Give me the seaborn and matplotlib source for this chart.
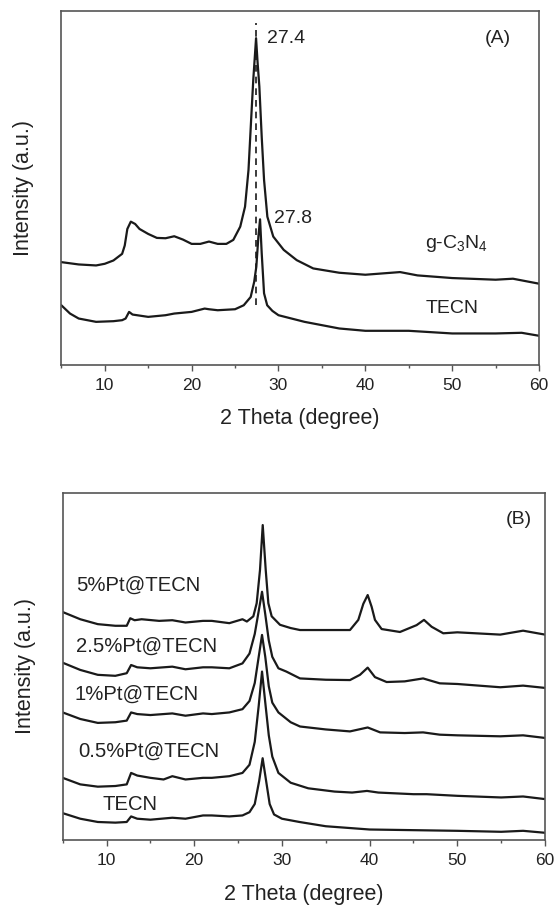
import numpy as np
import pandas as pd
import matplotlib
matplotlib.use("Agg")
import matplotlib.pyplot as plt
from matplotlib.ticker import MultipleLocator
import seaborn as sns

# ---------------- Panel A data ----------------
gcn_x = [5, 7, 9, 10, 11, 12, 12.3, 12.6, 13, 13.5, 14, 15, 16, 17, 18, 19, 20, 21, 22, 23, 24,
         24.8, 25.6, 26.15, 26.55, 26.85, 27.1, 27.42, 27.6, 27.8, 28.07, 28.34, 28.72, 29.4, 30.6,
         32.1, 34, 37, 40, 44, 46, 50, 55, 57, 60]
gcn_y = [310, 303, 300, 305, 315, 335, 360, 410, 432, 425, 410, 395, 383, 382, 388, 378, 365, 365,
         372, 365, 365, 377, 417, 477, 588, 738, 860, 985, 910, 839, 688, 558, 447, 387, 347,
         316, 291, 278, 272, 280, 270, 262, 257, 260, 245]

tecn_a_x = [5, 6, 7, 9, 11, 12, 12.4, 12.8, 13.2, 15, 17, 18, 20, 21.5, 22, 23, 25, 26, 26.8, 27.2,
            27.45, 27.69, 27.88, 28.07, 28.34, 28.7, 29.3, 30, 33, 37, 40, 45, 50, 55, 58, 60]
tecn_a_y = [180, 155, 140, 130, 132, 135, 140, 160, 152, 145, 150, 155, 160, 170, 168, 165, 168,
            180, 205, 250, 296, 387, 439, 337, 216, 180, 163, 150, 130, 110, 103, 103, 95, 95, 97, 88]

peak_a = 27.4
peak_a_ymin, peak_a_ymax = 180, 1030

# ---------------- Panel B data ----------------
b_labels = ["TECN", "0.5%Pt@TECN", "1%Pt@TECN", "2.5%Pt@TECN", "5%Pt@TECN"]

pt5_x = [5, 7, 9, 11, 12.3, 12.7, 13.2, 14, 16, 17.5, 19, 21, 22, 24, 25.5, 26.0, 26.74, 27.12,
         27.5, 27.81, 28.15, 28.45, 28.83, 29.78, 31, 32.06, 35, 37.76, 38.71, 39.28, 39.78, 40.23,
         40.61, 41.37, 43.46, 45.36, 46.2, 47.07, 48.4, 50, 54.9, 57.5, 60]
pt5_y = [697, 675, 660, 655, 655, 678, 672, 675, 670, 672, 665, 670, 670, 663, 675, 668, 684, 724,
         826, 963, 826, 724, 684, 658, 648, 642, 642, 642, 673, 722, 749, 713, 673, 645, 636, 657,
         673, 652, 632, 635, 628, 640, 628]

pt25_x = [5, 7, 9, 11, 12.3, 12.8, 13.5, 15, 17.5, 19, 21, 22, 24, 25.5, 26.3, 26.9, 27.35, 27.73,
          28.1, 28.5, 28.9, 29.6, 30.5, 32.06, 35, 37.76, 38.9, 39.78, 40.61, 41.94, 44, 46.1, 48,
          50, 54.9, 57.5, 60]
pt25_y = [542, 520, 505, 502, 510, 535, 528, 525, 530, 522, 528, 528, 525, 540, 570, 630, 700, 759,
          690, 610, 560, 525, 515, 494, 490, 489, 505, 527, 498, 483, 485, 494, 479, 477, 467, 472, 465]

pt1_x = [5, 7, 9, 11, 12.3, 12.8, 13.5, 15, 17.5, 19, 21, 22, 24, 25.5, 26.3, 26.9, 27.35, 27.73,
         28.1, 28.5, 28.9, 29.6, 31, 32.06, 35, 37.76, 39.78, 41.2, 44, 46.1, 48, 50, 54.9, 57.5, 60]
pt1_y = [390, 370, 358, 360, 365, 390, 385, 382, 387, 380, 387, 385, 390, 400, 425, 480, 560, 627,
         560, 470, 420, 390, 360, 347, 338, 332, 344, 329, 327, 329, 322, 320, 317, 320, 312]

pt05_x = [5, 7, 9, 11, 12.3, 12.8, 13.5, 15, 16.5, 17.5, 19, 21, 22, 24, 25.5, 26.3, 26.9, 27.35,
          27.73, 28.1, 28.5, 28.9, 29.6, 31, 33, 36, 38, 39.7, 41, 45, 46.5, 50, 55, 57.5, 60]
pt05_y = [190, 170, 163, 165, 170, 205, 197, 190, 185, 195, 185, 190, 190, 195, 205, 230, 300, 410,
          515, 420, 320, 255, 205, 175, 158, 148, 145, 150, 145, 140, 140, 135, 130, 133, 125]

tecn_b_x = [5, 7, 9, 11, 12.3, 12.8, 13.5, 15, 17.5, 19, 21, 22, 24, 25.5, 26.3, 26.9, 27.4, 27.8,
            28.2, 28.6, 29.1, 30, 32, 35, 40, 45, 50, 55, 57.5, 60]
tecn_b_y = [82, 65, 55, 53, 55, 72, 65, 62, 68, 65, 75, 75, 72, 75, 85, 110, 180, 250, 180, 110, 78,
            65, 55, 42, 32, 30, 28, 25, 28, 22]

b_label_pos_x = [9.5, 6.8, 6.3, 6.5, 6.5]
b_label_pos_y = [110, 270, 445, 592, 780]

xticks = [10, 20, 30, 40, 50, 60]

# ---------------- Build frames ----------------
df_a = pd.concat([
    pd.DataFrame({"theta": gcn_x, "intensity": gcn_y, "sample": "g-C3N4"}),
    pd.DataFrame({"theta": tecn_a_x, "intensity": tecn_a_y, "sample": "TECN"}),
])
b_series = [(tecn_b_x, tecn_b_y), (pt05_x, pt05_y), (pt1_x, pt1_y), (pt25_x, pt25_y), (pt5_x, pt5_y)]
df_b = pd.concat([
    pd.DataFrame({"theta": sx, "intensity": sy, "sample": lab})
    for lab, (sx, sy) in zip(b_labels, b_series)
])

sns.set_theme(style="ticks")
plt.rcParams["font.family"] = ["Liberation Sans", "DejaVu Sans"]
plt.rcParams["mathtext.fontset"] = "custom"
plt.rcParams["mathtext.rm"] = "Liberation Sans"
plt.rcParams["mathtext.it"] = "Liberation Sans"

fig = plt.figure(figsize=(5.56, 9.07), dpi=100)
ax_a = fig.add_axes([0.1103, 0.5976, 0.8592, 0.3903])
ax_b = fig.add_axes([0.1128, 0.0739, 0.8674, 0.3829])

line_col = "#1a1a1a"
spine_col = "#555555"
text_col = "#222222"

sns.lineplot(data=df_a, x="theta", y="intensity", units="sample", estimator=None,
             color=line_col, linewidth=1.6, sort=False, ax=ax_a)
sns.lineplot(data=df_b, x="theta", y="intensity", units="sample", estimator=None,
             color=line_col, linewidth=1.6, sort=False, ax=ax_b)

ax_a.vlines(peak_a, peak_a_ymin, peak_a_ymax, colors=line_col, linestyles=(0, (4, 3)), linewidth=1.2)

ax_a.set_ylim(0, 1067)
ax_b.set_ylim(0, 1062)

xlab_y = [-0.150, -0.158]
ylab_x = [-0.057, -0.056]
for ax, xy, yx in zip((ax_a, ax_b), xlab_y, ylab_x):
    ax.set_xlim(5, 60)
    ax.set_xticks(xticks)
    ax.xaxis.set_minor_locator(MultipleLocator(5))
    ax.set_yticks([])
    ax.tick_params(axis="x", which="major", length=4.5, width=1, color=spine_col,
                   labelsize=12.5, labelcolor=text_col, pad=5)
    ax.tick_params(axis="x", which="minor", length=2.5, width=1, color=spine_col)
    for s in ax.spines.values():
        s.set_visible(True)
        s.set_linewidth(1.2)
        s.set_color(spine_col)
    ax.set_xlabel("2 Theta (degree)", fontsize=15.5, color=text_col, va="center")
    ax.set_ylabel("Intensity (a.u.)", fontsize=15.5, color=text_col)
    ax.yaxis.set_label_coords(yx, 0.5)
    ax.xaxis.set_label_coords(0.5, xy)

txt = dict(fontsize=14, color=text_col, va="center", ha="left")
ax_a.text(28.7, 985, "27.4", **txt)
ax_a.text(29.5, 440, "27.8", **txt)
ax_a.text(46.9, 365, "g-C$_3$N$_4$", **txt)
ax_a.text(46.9, 170, "TECN", **txt)
ax_a.text(53.8, 985, "(A)", **txt)

for lab, lx, ly in zip(b_labels, b_label_pos_x, b_label_pos_y):
    ax_b.text(lx, ly, lab, fontsize=14.6, color=text_col, va="center", ha="left")
ax_b.text(55.5, 980, "(B)", **txt)

fig.savefig("out.png", dpi=100)
